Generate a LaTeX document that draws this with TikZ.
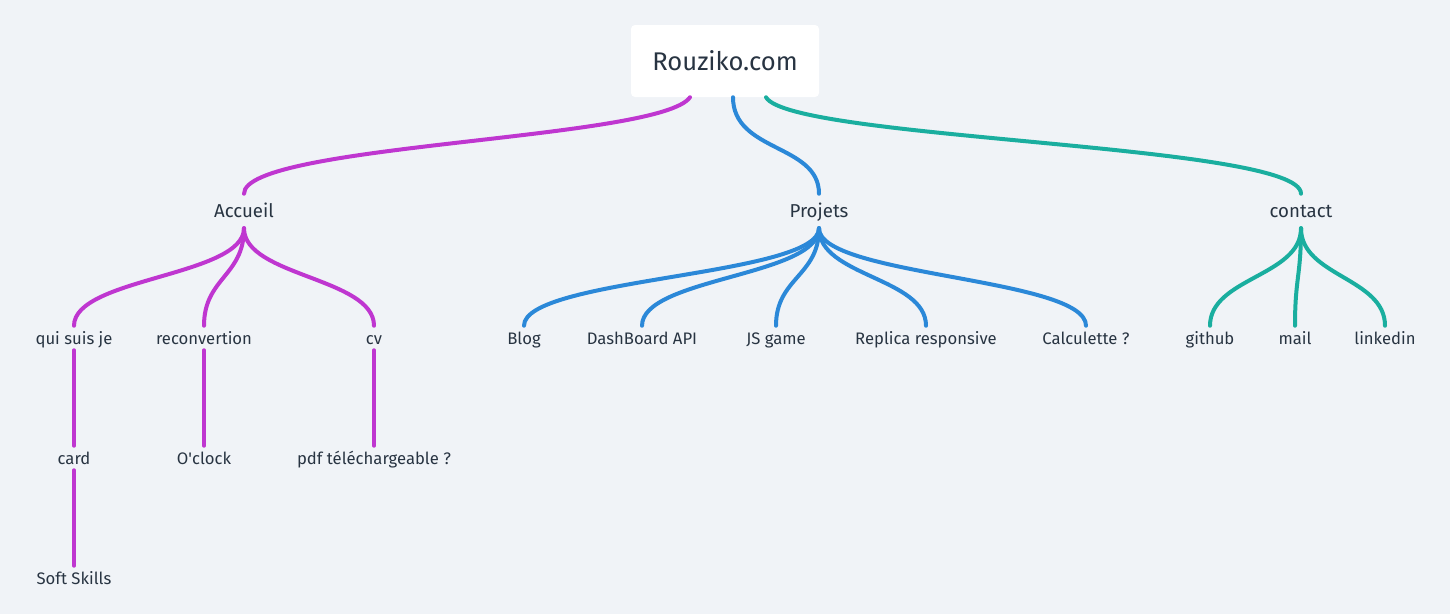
\documentclass[tikz,border=0pt]{standalone}
\usepackage{fontspec}
\setmainfont{Fira Sans}
\usetikzlibrary{positioning}

\definecolor{bgcol}{RGB}{240,243,247}
\definecolor{txtcol}{RGB}{40,52,66}
\definecolor{purp}{RGB}{191,54,208}
\definecolor{bleu}{RGB}{43,136,216}
\definecolor{teal}{RGB}{26,174,159}

\begin{document}
\begin{tikzpicture}[x=0.75pt, y=-0.75pt,
    lbl/.style={text=txtcol, font=\fontsize{12.5}{14}\selectfont, text height=10.5pt, text depth=1.5pt, inner xsep=2pt, inner ysep=3pt},
    branch/.style={lbl, font=\fontsize{14}{16}\selectfont, text height=11.5pt, text depth=2pt, inner ysep=6pt},
    rootbox/.style={fill=white, rounded corners=3pt, text=txtcol, font=\fontsize{19.2}{21}\selectfont, minimum width=141pt, minimum height=54pt},
    edgeline/.style={line width=3pt, line cap=round}]

    % Fond
    \fill[bgcol] (0,0) rectangle (1450,614);
    \useasboundingbox (0,0) rectangle (1450,614);

    % Racine
    \node[rootbox] (root) at (725,61) {Rouziko.com};

    % Branches principales
    \node[branch] (accueil) at (244,211) {Accueil};
    \node[branch] (projets) at (819,211) {Projets};
    \node[branch] (contact) at (1301,211) {contact};

    % Accueil
    \node[lbl] (quisuis) at (74,338) {qui suis je};
    \node[lbl] (reconv) at (204,338) {reconvertion};
    \node[lbl] (cv) at (374,338) {cv};
    \node[lbl] (card) at (74,458) {card};
    \node[lbl] (oclock) at (204,458) {O\textquotesingle clock};
    \node[lbl] (pdf) at (374,458) {pdf téléchargeable ?};
    \node[lbl] (soft) at (74,578) {Soft Skills};

    % Projets
    \node[lbl] (blog) at (524,338) {Blog};
    \node[lbl] (dash) at (642,338) {DashBoard API};
    \node[lbl] (jsgame) at (776,338) {JS game};
    \node[lbl] (replica) at (926,338) {Replica responsive};
    \node[lbl] (calc) at (1086,338) {Calculette ?};

    % contact
    \node[lbl] (github) at (1210,338) {github};
    \node[lbl] (mail) at (1295,338) {mail};
    \node[lbl] (linkedin) at (1385,338) {linkedin};

    % Liens depuis la racine
    \draw[edgeline, purp] ([xshift=-26.25pt]root.south) .. controls +(-30,43) and +(0,-50) .. (accueil.north);
    \draw[edgeline, bleu] ([xshift=6pt]root.south) .. controls +(0,55) and +(0,-50) .. (projets.north);
    \draw[edgeline, teal] ([xshift=30.75pt]root.south) .. controls +(25,43) and +(0,-50) .. (contact.north);

    % Liens vers les sous-pages
    \foreach \c in {quisuis, reconv, cv}
        \draw[edgeline, purp] (accueil.south) .. controls +(0,48) and +(0,-48) .. (\c.north);
    \foreach \c in {blog, dash, jsgame, replica, calc}
        \draw[edgeline, bleu] (projets.south) .. controls +(0,48) and +(0,-48) .. (\c.north);
    \foreach \c in {github, mail, linkedin}
        \draw[edgeline, teal] (contact.south) .. controls +(0,48) and +(0,-48) .. (\c.north);

    % Niveau suivant
    \draw[edgeline, purp] (quisuis.south) -- (card.north);
    \draw[edgeline, purp] (reconv.south) -- (oclock.north);
    \draw[edgeline, purp] (cv.south) -- (pdf.north);
    \draw[edgeline, purp] (card.south) -- (soft.north);
\end{tikzpicture}
\end{document}
